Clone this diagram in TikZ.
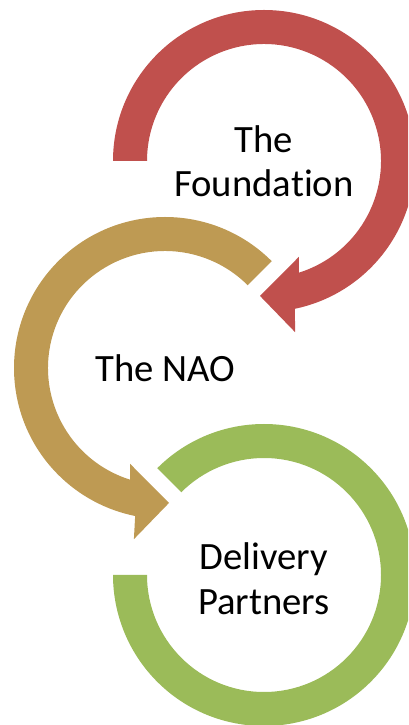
\documentclass[tikz,border=0pt]{standalone}
\usepackage{fontspec}
\setmainfont[Ligatures=NoCommon]{Carlito}
\usetikzlibrary{positioning}
\definecolor{Brick}{RGB}{192,80,77}
\definecolor{Ochre}{RGB}{190,154,83}
\definecolor{Leaf}{RGB}{155,187,89}

\begin{document}
\begin{tikzpicture}[x=0.03cm,y=0.03cm,
    ring/.style={draw=none},
    ringtext/.style={align=center,inner sep=0pt,font=\fontsize{33}{38}\selectfont}
]

\clip (0,0) rectangle (408,725);

% Ring centres
\coordinate (found-c) at (264,564);
\coordinate (nao-c) at (165,357);
\coordinate (deliv-c) at (264,150);

% Foundation arrow (clockwise, head at the bottom)
\fill[ring,Brick,shift={(found-c)}] (180:151) arc[start angle=180,end angle=-78.2,radius=151]
    -- (-79.7:174) -- (-91.7:135) -- (-70:102) -- (-72.6:117)
    arc[start angle=-72.6,end angle=180,radius=117] -- cycle;

% NAO arrow (counter-clockwise, head at the bottom)
\fill[ring,Ochre,shift={(nao-c)}] (45:151) arc[start angle=45,end angle=258.6,radius=151]
    -- (259.7:174) -- (271.7:135) -- (250:102) -- (252.6:117)
    arc[start angle=252.6,end angle=45,radius=117] -- cycle;

% Delivery ring (open, no head)
\fill[ring,Leaf,shift={(deliv-c)}] (135:151) arc[start angle=135,end angle=-180,radius=151]
    -- (180:117) arc[start angle=-180,end angle=135,radius=117] -- cycle;

% Labels
\node[ringtext] (foundation) at (found-c) {The\\Foundation};
\node[ringtext] (nao) at (nao-c) {The NAO};
\node[ringtext,yshift=-3] (partners) at (deliv-c) {Delivery\\Partners};

\end{tikzpicture}
\end{document}
